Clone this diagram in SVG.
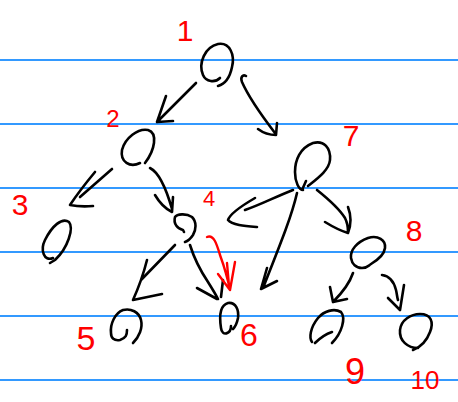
<svg xmlns="http://www.w3.org/2000/svg" width="458" height="402" viewBox="0 0 458 402">
<style>
.rule{stroke:#3399ff;stroke-width:1.8}
.ink{fill:none;stroke:#000;stroke-width:2.6;stroke-linecap:round;stroke-linejoin:round}
.red{fill:none;stroke:#ff0000;stroke-width:2.4;stroke-linecap:round;stroke-linejoin:round}
.lbl{fill:#ff0000;font-family:"Liberation Sans",Arial,sans-serif;font-weight:normal;text-anchor:middle}
</style>
<rect width="458" height="402" fill="#fff"/>
<g id="paper">
<line class="rule" x1="0" y1="60" x2="458" y2="60"/>
<line class="rule" x1="0" y1="124" x2="458" y2="124"/>
<line class="rule" x1="0" y1="188" x2="458" y2="188"/>
<line class="rule" x1="0" y1="252" x2="458" y2="252"/>
<line class="rule" x1="0" y1="316" x2="458" y2="316"/>
<line class="rule" x1="0" y1="380" x2="458" y2="380"/>
</g>
<g id="connectors">
<path class="ink" d="M196,83 L157,122 M166,96 L157,122 L173,121"/>
<path class="ink" d="M246,76 C243,74 240,77 242,82 C249,98 262,116 275,133 M258,129 Q266,135 276,135 L277,123"/>
<path class="ink" d="M112,169 L80,197 M95,172 Q80,190 70,205 Q80,207 93,206"/>
<path class="ink" d="M150,168 C158,172 166,188 172,209 M155,195 Q162,207 172,212 L173,197"/>
<path class="ink" d="M175,245 L141,280 M147,260 Q142,280 133,300 L162,294"/>
<path class="ink" d="M190,245 C194,258 200,270 208,282 C213,290 216,295 218,299 M197,288 L217,299 M223,280 L221,297"/>
<path class="red" d="M207,237 C214,234 217,245 220,255 C224,266 228,280 230,290 M218,274 L230,290 L235,262 M227,263 L229,286"/>
<path class="ink" d="M293,190 C275,197 260,205 245,210 M255,198 C243,205 230,213 228,220 C232,225 245,226 257,227"/>
<path class="ink" d="M297,193 C292,215 282,240 263,288 M267,268 L261,289 L277,281"/>
<path class="ink" d="M317,190 C327,198 340,210 345,218 C348,224 348,228 348,232 M348,207 Q353,220 348,233 Q338,230 325,222"/>
<path class="ink" d="M353,273 C350,282 343,292 333,302 M330,287 L333,302 L347,299"/>
<path class="ink" d="M382,275 C390,276 394,282 396,290 C397,294 397,297 398,300 M388,298 L400,310 L404,285"/>
</g>
<g id="node1">
<path class="ink" d="M220,78 C215,83 206,82 203,75 C198,63 205,47 218,44 C230,42 235,55 232,67 C230,77 225,84 218,86"/>
<text class="lbl" x="185" y="41" font-size="30">1</text>
</g>
<g id="node2">
<path class="ink" d="M140,163 C130,168 120,162 122,150 C125,138 138,128 148,130 C158,133 155,150 145,163"/>
<text class="lbl" x="113" y="127" font-size="24">2</text>
</g>
<g id="node3">
<path class="ink" d="M53,258 C44,262 40,250 45,240 C52,226 62,217 69,222 C74,228 68,248 55,260 L50,263"/>
<text class="lbl" x="20" y="215" font-size="30">3</text>
</g>
<g id="node4">
<path class="ink" d="M184,232 L183,230 C178,229 173,224 175,217 C177,214 186,213 192,217 C197,222 196,230 193,235 C191,238 188,241 185,242"/>
<text class="lbl" x="209" y="206" font-size="22">4</text>
</g>
<g id="node5">
<path class="ink" d="M127,330 C127,335 126,338 120,340 C114,341 111,338 111,333 C110,324 115,313 123,310 C131,308 139,312 141,320 C143,328 139,337 133,343"/>
<text class="lbl" x="86" y="350" font-size="34">5</text>
</g>
<g id="node6">
<path class="ink" d="M231,326 C231,334 222,337 221,328 C219,315 221,305 228,303 C236,302 239,310 238,318 C237,323 235,327 233,329"/>
<text class="lbl" x="249" y="346" font-size="32">6</text>
</g>
<g id="node7">
<path class="ink" d="M303,190 C299,190 295,182 295,172 C295,160 300,148 313,143 C324,140 331,148 330,160 C329,170 318,178 308,186 M306,181 L302,190"/>
<text class="lbl" x="351" y="146" font-size="30">7</text>
</g>
<g id="node8">
<path class="ink" d="M351,258 C350,250 357,242 368,238 C378,235 386,240 385,248 C384,256 376,261 371,264 C368,266 368,268 362,268 C356,268 352,264 351,258"/>
<text class="lbl" x="414" y="241" font-size="30">8</text>
</g>
<g id="node9">
<path class="ink" d="M312,342 C309,338 310,328 318,318 C324,311 334,308 341,312 C346,318 342,333 332,343 M332,332 C326,334 320,338 315,343"/>
<text class="lbl" x="355" y="384" font-size="36">9</text>
</g>
<g id="node10">
<path class="ink" d="M418,348 C408,348 399,341 400,330 C401,320 411,314 420,314 C431,314 434,322 430,332 C427,340 421,347 413,350"/>
<text class="lbl" x="425" y="389" font-size="26">10</text>
</g>
</svg>
